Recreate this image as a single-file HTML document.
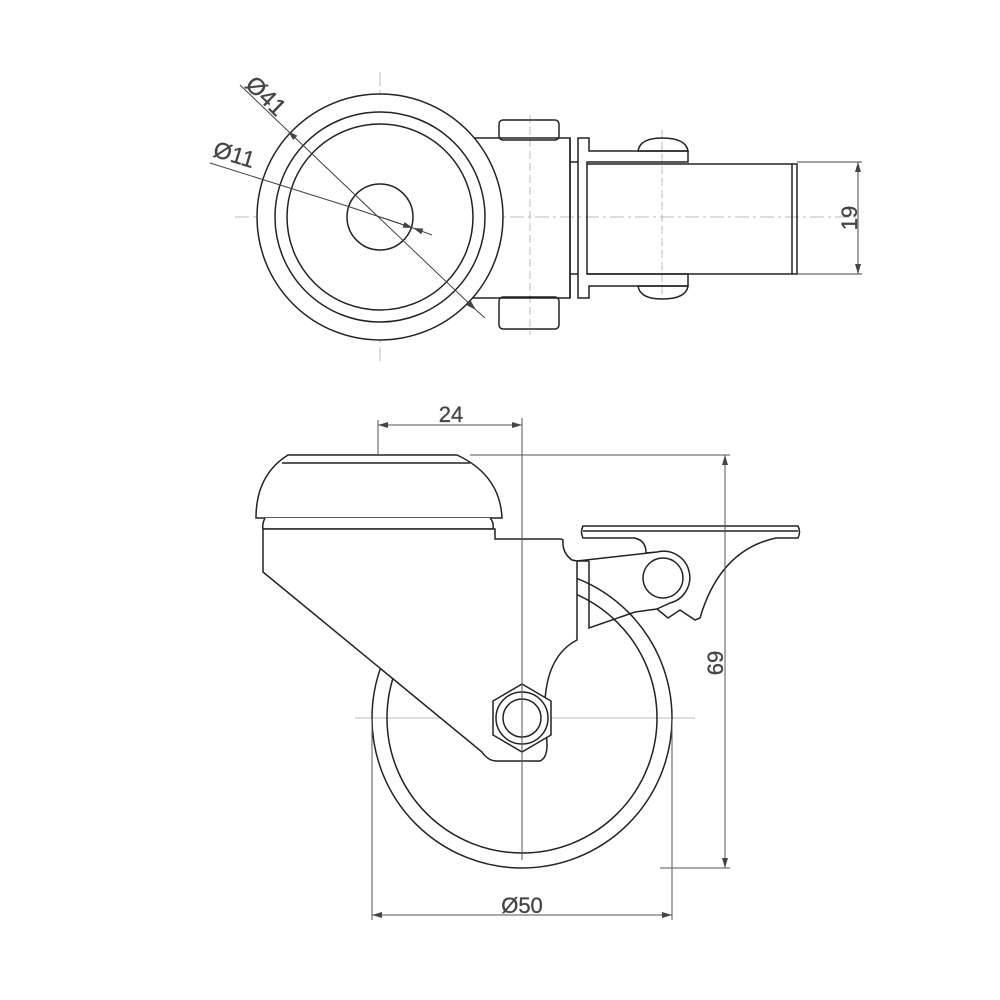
<!DOCTYPE html>
<html><head><meta charset="utf-8"><style>html,body{margin:0;padding:0;background:#fff}svg{display:block}</style></head>
<body>
<svg width="1000" height="1000" viewBox="0 0 1000 1000" xmlns="http://www.w3.org/2000/svg">
<defs>
<marker id="a" viewBox="0 0 10 6" refX="10" refY="3" markerWidth="10" markerHeight="6" orient="auto-start-reverse" markerUnits="userSpaceOnUse"><path d="M0,0 L10,3 L0,6 z" fill="#444"/></marker>
</defs>
<g fill="none" stroke="#bbb" stroke-width="1">
<line x1="380" y1="72" x2="380" y2="362" stroke-dasharray="14,4,3,4"/>
<line x1="235" y1="217" x2="860" y2="217" stroke-dasharray="14,4,3,4"/>
<line x1="530" y1="115" x2="530" y2="335" stroke-dasharray="8,4"/>
<line x1="662" y1="130" x2="662" y2="300" stroke-dasharray="8,4"/>
<line x1="380" y1="455" x2="380" y2="550" stroke-dasharray="8,4"/>
<line x1="355" y1="718" x2="695" y2="718"/>
</g>
<g fill="none" stroke="#222" stroke-width="1.5">
<rect x="499" y="120" width="60" height="20" rx="4"/>
<rect x="499" y="297" width="60" height="32" rx="4"/>
<path d="M638,151 Q640,138 662,138 Q686,138 688,151 Z"/>
<path d="M638,286 Q640,299 662,299 Q686,299 688,286 Z"/>
<path d="M470,138 H570 V298 H470"/>
<path d="M578,138 H589 V151 H688 V162 H587 V274 H688 V286 H589 V298 H578 Z"/>
<line x1="570" y1="138" x2="570" y2="298"/>
<line x1="570" y1="162" x2="578" y2="162"/><line x1="570" y1="274" x2="578" y2="274"/>
<path d="M587,164 H797 V274 H587"/>
<line x1="792" y1="164" x2="792" y2="274"/>
<circle cx="380" cy="217" r="123" fill="#fff"/>
<circle cx="380" cy="217" r="105"/>
<circle cx="380" cy="217" r="93"/>
<circle cx="380" cy="217" r="33"/>
</g>
<g stroke="#444" stroke-width="1" fill="none">
<line x1="240" y1="85" x2="288" y2="131" />
<line x1="288" y1="131" x2="476" y2="310" marker-start="url(#a)" marker-end="url(#a)"/>
<line x1="476" y1="310" x2="485" y2="318"/>
<line x1="210" y1="163" x2="347" y2="206" />
<line x1="347" y1="206" x2="413" y2="228" marker-end="url(#a)"/>
<line x1="432" y1="235" x2="413" y2="228" marker-end="url(#a)"/>
<line x1="413" y1="228" x2="380" y2="217"/>
<line x1="797" y1="162" x2="862" y2="162"/><line x1="797" y1="274" x2="862" y2="274"/>
<line x1="858" y1="162" x2="858" y2="274" marker-start="url(#a)" marker-end="url(#a)"/>
</g>
<g font-family="Liberation Sans, sans-serif" font-size="22" fill="#444" stroke="#444" stroke-width="0.3">
<text transform="translate(244,86) rotate(44)" font-size="24">Ø41</text>
<text transform="translate(212,156) rotate(17)" font-size="23">Ø11</text>
<text transform="translate(857,218) rotate(-90)" text-anchor="middle">19</text>
<text x="451" y="422" text-anchor="middle">24</text>
<text transform="translate(723,663) rotate(-90)" text-anchor="middle">69</text>
<text x="522" y="913" text-anchor="middle">Ø50</text>
</g>
<g fill="none" stroke="#222" stroke-width="1.5">
<circle cx="522" cy="718" r="150"/>
<circle cx="522" cy="718" r="135"/>
<path d="M288,455 H457 Q500,475 502,518 H256 Q256,475 288,455 Z" fill="#fff"/>
<line x1="282" y1="463" x2="470" y2="463"/>
<path d="M265,518 Q262,524 263,529 H493 Q494,522 490,518" fill="#fff"/>
<path d="M263,529 V572 L482,752 Q488,761 497,761 H540 Q547,758 547,745 L545,700 Q548,655 577,640 V561 L572,560 Q562,553 563,540 L561,539 H495 V529 Z" fill="#fff"/>
<path d="M577,561 L657,552 A25,25 0 0 1 670,603 L657,609 L668,618 L680,610 L695,620 L700,618 Q720,550 776,538 L798,538 Q801,532 798,526 H583 Q580,532 583,538 H634 Q646,540 646,553 L657,552" fill="#fff"/>
<path d="M589,561 V628 L635,612 L657,609"/>
<path d="M577,561 L589,561"/>
<line x1="583" y1="531" x2="798" y2="531"/>
<circle cx="663" cy="578" r="20"/>
<path d="M522,684 L551,701 L551,735 L522,752 L493,735 L493,701 Z" fill="#fff"/>
<circle cx="522" cy="718" r="19"/>
<circle cx="522" cy="718" r="26"/>
</g>
<g stroke="#555" stroke-width="1" fill="none">
<line x1="522" y1="418" x2="522" y2="860"/>
<line x1="378" y1="420" x2="378" y2="455"/>
<line x1="378" y1="425" x2="522" y2="425" marker-start="url(#a)" marker-end="url(#a)"/>
<line x1="470" y1="455" x2="730" y2="455"/>
<line x1="660" y1="868" x2="730" y2="868"/>
<line x1="725" y1="455" x2="725" y2="868" marker-start="url(#a)" marker-end="url(#a)"/>
<line x1="372" y1="718" x2="372" y2="920"/>
<line x1="672" y1="718" x2="672" y2="920"/>
<line x1="372" y1="915" x2="672" y2="915" marker-start="url(#a)" marker-end="url(#a)"/>
</g>
</svg>
</body></html>
